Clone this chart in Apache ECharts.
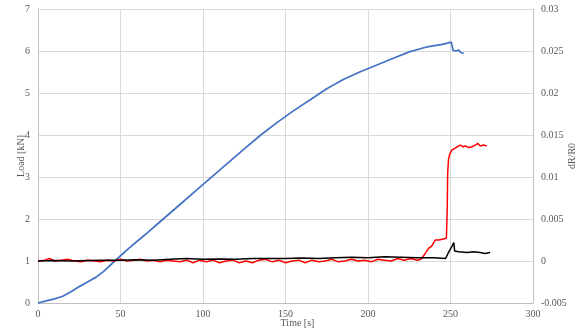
<!DOCTYPE html>
<html>
<head>
<meta charset="utf-8">
<script src="https://cdn.jsdelivr.net/npm/echarts@6/dist/echarts.min.js"></script>
<style>html,body{margin:0;padding:0;background:#fff}#c{width:581px;height:333px}</style>
</head>
<body>
<div id="c"></div>
<script>
// Load [kN] vs time [s]
const loadTime = [0,5,10,15,20,25,30,35,40,46.5,55,65,75,85,95,105,115,125,135,145,155,165,175,185,195,205,215,225,235,245,250.5,251.5,253,255,256,258];
const loadVal  = [0,0.05,0.1,0.16,0.27,0.39,0.5,0.61,0.76,1.0,1.3,1.63,1.97,2.31,2.65,2.99,3.33,3.67,4.0,4.3,4.58,4.84,5.1,5.32,5.5,5.66,5.82,5.98,6.09,6.16,6.21,6.02,6.0,6.02,5.97,5.94];

// dR/R0 red sensor
const redTime = [0,4,7,10,14,18,22,26,30,34,38,42,46,50,54,58,62,66,70,74,78,82,86,90,94,98,102,106,110,114,118,122,126,130,134,138,142,146,150,154,158,162,166,170,174,178,182,186,190,194,198,202,206,210,214,218,222,226,230,232,233.6,235,236.7,237.5,238.7,239.5,240.7,243,245,247.5,248,248.3,248.8,249.5,250.8,252,254,256,257.5,259,261,263,265,266.6,268,270,272];
const redVal  = [0,0.0001,0.0003,0,0.0001,0.0002,0,-0.0001,0.0001,0,-0.0001,0.0001,0,0.0002,0,0.0001,0.0002,0,0.0001,-0.0001,0.0001,0,-0.0001,0.0001,-0.0002,0.0001,-0.0001,0.0001,-0.0002,0,0.0001,-0.0002,0,-0.0002,0.0001,0.0002,-0.0001,0.0001,-0.0002,0,0.0001,-0.0002,0.0001,-0.0001,0,0.0002,-0.0001,0,0.0002,0,0.0001,-0.0001,0.0002,0.0001,0,0.0003,0.0001,0.0003,0.0001,0.0002,0.0006,0.001,0.0015,0.0013,0.0018,0.0017,0.0025,0.0025,0.0026,0.0027,0.006,0.0105,0.0121,0.0127,0.0132,0.0134,0.0136,0.0138,0.0136,0.0137,0.0135,0.0136,0.0138,0.014,0.0137,0.0138,0.0137];

// dR/R0 black sensor
const blackTime = [0,10,20,30,40,50,60,70,80,90,100,110,120,130,140,150,160,170,180,190,200,210,220,230,240,247,249,251,252,252.5,255,260,264,268,271,274];
const blackVal  = [0,0.00005,0,0.00005,0.0001,0.0001,0.00015,0.0001,0.0002,0.0003,0.0002,0.00025,0.0002,0.0003,0.0003,0.0003,0.00035,0.0003,0.0004,0.00045,0.0004,0.0005,0.00045,0.0004,0.0004,0.0003,0.0011,0.0018,0.0022,0.0012,0.0011,0.001,0.0011,0.001,0.0009,0.001];

function pairs(t, v){ return t.map((x,i)=>[x, v[i]]); }

const font = 'Liberation Serif';
const txt = {color:'#595959', fontFamily:font, fontSize:10};
const chart = echarts.init(document.getElementById('c'), null, {renderer:'canvas'});
chart.setOption({
  animation:false,
  backgroundColor:'#fff',
  grid:{left:38, right:48, top:9, bottom:30, containLabel:false, outerBoundsMode:'none'},
  xAxis:{type:'value', min:0, max:300, interval:50,
    name:'Time [s]', nameLocation:'middle', nameGap:15, nameMoveOverlap:false,
    nameTextStyle:Object.assign({padding:[0,0,0,24]}, txt),
    axisLine:{show:true, lineStyle:{color:'#bfbfbf'}}, axisTick:{show:false},
    axisLabel:Object.assign({margin:6}, txt),
    splitLine:{show:true, lineStyle:{color:'#d9d9d9'}}},
  yAxis:[
    {type:'value', min:0, max:7, interval:1, position:'left',
     name:'Load [kN]', nameLocation:'middle', nameGap:12, nameRotate:90, nameMoveOverlap:false, nameTextStyle:txt,
     axisLine:{show:true, lineStyle:{color:'#bfbfbf'}}, axisTick:{show:false},
     axisLabel:Object.assign({margin:8}, txt),
     splitLine:{show:true, lineStyle:{color:'#d9d9d9'}}},
    {type:'value', min:-0.005, max:0.03, interval:0.005, position:'right',
     name:'dR/R0', nameLocation:'middle', nameGap:34, nameRotate:90, nameMoveOverlap:false, nameTextStyle:txt,
     axisLine:{show:true, lineStyle:{color:'#bfbfbf'}}, axisTick:{show:false},
     axisLabel:Object.assign({margin:8, formatter:v=>String(+v.toFixed(3))}, txt),
     splitLine:{show:false}}
  ],
  series:[
    {type:'line', yAxisIndex:0, data:pairs(loadTime, loadVal), showSymbol:false, lineStyle:{color:'#4472C4', width:1.75}},
    {type:'line', yAxisIndex:1, data:pairs(redTime, redVal), showSymbol:false, lineStyle:{color:'#FF0000', width:1.5}},
    {type:'line', yAxisIndex:1, data:pairs(blackTime, blackVal), showSymbol:false, lineStyle:{color:'#000000', width:1.5}}
  ]
});
</script>
</body>
</html>
